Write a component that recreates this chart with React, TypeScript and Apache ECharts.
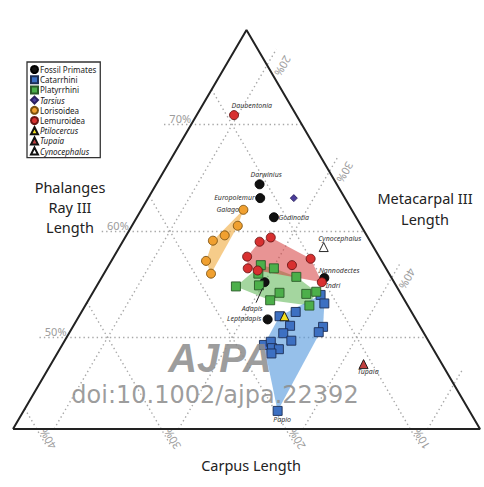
import React, { useEffect, useRef } from "react";
import * as echarts from "echarts";

// Window of the ternary diagram: minimum value shown for each component (%)
const carpusMin = 4.4;
const metacarpalMin = 16.7;
const phalangesMin = 41.4;
const span = 100 - carpusMin - metacarpalMin - phalangesMin; // 37.5

const phalangesTicks = [50, 60, 70];
const metacarpalTicks = [20, 30, 40, 50];
const metacarpalLabelTicks = [20, 30, 40];
const carpusTicks = [10, 20, 30, 40];

// Each point: [carpus %, metacarpal III %, phalanges ray III %]
const fossilNames = ["Darwinius", "Europolemur", "Godinotia", "Nannodectes", "Adapis", "Leptadapis"];
const fossilPrimates = [
  [10.6, 25.0, 64.4], [11.2, 25.7, 63.1], [11.0, 27.7, 61.3],
  [9.8, 34.6, 55.6], [14.8, 30.0, 55.2], [16.3, 32.0, 51.7],
];

const catarrhiniNames = ["", "", "", "", "", "", "", "", "", "", "", "", "", "", "Papio"];
const catarrhini = [
  [10.9, 35.1, 54.0], [11.0, 35.8, 53.2], [13.7, 33.9, 52.4], [15.2, 32.8, 52.0],
  [14.8, 34.1, 51.1], [15.7, 33.9, 50.4], [15.4, 34.9, 49.7], [12.2, 36.8, 51.0],
  [12.8, 36.7, 50.5], [17.8, 32.9, 49.3], [17.1, 33.3, 49.6], [17.3, 33.7, 49.0],
  [16.8, 34.3, 48.9], [17.6, 33.9, 48.5], [19.8, 37.1, 43.1],
];

const platyrrhini = [
  [14.3, 28.9, 56.8], [13.4, 30.1, 56.5], [12.0, 32.3, 55.7], [14.9, 29.1, 56.0],
  [17.3, 27.9, 54.8], [15.4, 29.7, 54.9], [14.1, 31.7, 54.2], [15.2, 31.3, 53.5],
  [12.0, 33.9, 54.1], [11.1, 34.6, 54.3], [12.3, 34.7, 53.0],
];

const tarsius = [[8.5, 28.4, 63.1]];

const lorisoideaNames = ["Galago", "", "", "", "", ""];
const lorisoidea = [
  [13.1, 24.9, 62.0], [14.3, 25.2, 60.5], [15.8, 24.6, 59.6],
  [17.0, 23.9, 59.1], [18.5, 24.3, 57.2], [18.7, 25.3, 56.0],
];

const daubentonia = [9.4, 19.7, 70.9];
const lemuroideaNames = ["Daubentonia", "", "", "", "", "", "", "", "Indri"];
const lemuroideaRest = [
  [13.3, 27.7, 59.0], [12.2, 28.4, 59.4], [15.0, 27.4, 57.6], [15.5, 28.0, 56.5],
  [14.8, 28.9, 56.3], [11.8, 31.4, 56.8], [10.0, 32.6, 57.4], [10.2, 34.6, 55.2],
];

const ptilocercus = [[14.8, 33.2, 52.0]];
const tupaia = [[10.7, 41.8, 47.5]];
const cynocephalus = [[8.4, 33.1, 58.5]];

const legendNames = [
  "Fossil Primates", "Catarrhini", "Platyrrhini", "Tarsius", "Lorisoidea",
  "Lemuroidea", "Ptilocercus", "Tupaia", "Cynocephalus",
];
const italicNames = ["Tarsius", "Ptilocercus", "Tupaia", "Cynocephalus"];

// label placement for named specimens (pixels, relative to the point)
const pointLabels: Record<string, { align: string; dx: number; dy: number }> = {
  Daubentonia: { align: "left", dx: -2, dy: -9 },
  Darwinius: { align: "center", dx: 7, dy: -9 },
  Europolemur: { align: "right", dx: -5, dy: 0 },
  Galago: { align: "right", dx: -4, dy: 0 },
  Godinotia: { align: "left", dx: 5, dy: 0.5 },
  Cynocephalus: { align: "left", dx: -5, dy: -8 },
  Nannodectes: { align: "left", dx: -5, dy: -7 },
  Indri: { align: "left", dx: 4, dy: 4 },
  Adapis: { align: "center", dx: -12, dy: 27 },
  Leptadapis: { align: "right", dx: -6, dy: 0 },
  Tupaia: { align: "center", dx: 5, dy: 8 },
  Papio: { align: "center", dx: 5, dy: 9 },
};

const toXY = (t: number[]) => {
  const p = t[2];
  const m = t[1];
  const y = (p - phalangesMin) / span;
  const x = (m - metacarpalMin) / span + y / 2;
  return [x, y];
};

const convexHull = (pts: number[][]) => {
  const p = pts.slice().sort((a, b) => a[0] - b[0] || a[1] - b[1]);
  const cross = (o: number[], a: number[], b: number[]) =>
    (a[0] - o[0]) * (b[1] - o[1]) - (a[1] - o[1]) * (b[0] - o[0]);
  const lower: number[][] = [];
  for (const q of p) {
    while (lower.length >= 2 && cross(lower[lower.length - 2], lower[lower.length - 1], q) <= 0) lower.pop();
    lower.push(q);
  }
  const upper: number[][] = [];
  for (let i = p.length - 1; i >= 0; i--) {
    const q = p[i];
    while (upper.length >= 2 && cross(upper[upper.length - 2], upper[upper.length - 1], q) <= 0) upper.pop();
    upper.push(q);
  }
  upper.pop();
  lower.pop();
  return lower.concat(upper);
};

const hullSeries = (pts: number[][], fill: string) => {
  const hull = convexHull(pts.map(toXY));
  return {
    type: "custom",
    silent: true,
    z: 2,
    data: [[0, 0]],
    renderItem: (_params: any, api: any) => ({
      type: "polygon",
      shape: { points: hull.map((h) => api.coord(h)) },
      style: { fill, stroke: "none" },
    }),
  };
};

const scatterSeries = (
  name: string,
  pts: number[][],
  names: string[] | null,
  symbol: string,
  size: number,
  color: string,
  border: string
) => ({
  type: "scatter",
  name,
  symbol,
  symbolSize: size,
  z: 5,
  clip: false,
  emphasis: { disabled: true },
  itemStyle: { color, borderColor: border, borderWidth: 0.9, opacity: 1 },
  data: pts.map((p, i) => {
    const nm = names ? names[i] : "";
    const lay = nm ? pointLabels[nm] : undefined;
    const item: any = { value: toXY(p) };
    if (nm) item.name = nm;
    if (lay) {
      item.label = {
        show: true,
        position: [size / 2 + lay.dx, size / 2 + lay.dy],
        align: lay.align,
        verticalAlign: "middle",
        formatter: nm,
        color: "#333",
        fontSize: 7,
        fontStyle: "italic",
        fontFamily: "Noto Sans",
        textBorderWidth: 0,
      };
    }
    return item;
  }),
});

export default function App() {
  const ref = useRef<HTMLDivElement>(null);

  useEffect(() => {
    if (!ref.current) return;
    const chart = echarts.init(ref.current, undefined, { renderer: "svg" });

    const apex = [carpusMin, metacarpalMin, 100 - carpusMin - metacarpalMin];
    const bl = [100 - metacarpalMin - phalangesMin, metacarpalMin, phalangesMin];
    const br = [carpusMin, 100 - carpusMin - phalangesMin, phalangesMin];

    const gridSegs: number[][][] = [];
    phalangesTicks.forEach((v) => {
      const a = toXY([100 - v - metacarpalMin, metacarpalMin, v]);
      const b = toXY([carpusMin, 100 - v - carpusMin, v]);
      gridSegs.push([[a[0] - 0.058, a[1]], b]);
    });
    metacarpalTicks.forEach((v) => {
      const a = toXY([100 - phalangesMin - v, v, phalangesMin]);
      const b = toXY([carpusMin, v, 100 - carpusMin - v]);
      gridSegs.push([a, [b[0] + 0.02, b[1] + 0.04]]);
    });
    carpusTicks.forEach((v) => {
      const a = toXY([v, metacarpalMin, 100 - metacarpalMin - v]);
      const b = toXY([v, 100 - phalangesMin - v, phalangesMin]);
      gridSegs.push([a, [b[0] + 0.02, b[1] - 0.04]]);
    });

    const lemuroidea = [daubentonia, ...lemuroideaRest];

    const option: any = {
      animation: false,
      grid: { left: 13, right: 4, top: 30, bottom: 58 },
      xAxis: { type: "value", min: 0, max: 1, show: false },
      yAxis: { type: "value", min: 0, max: 1, show: false },
      legend: {
        data: legendNames,
        orient: "vertical",
        left: 27,
        top: 62,
        padding: [3, 4, 2, 3],
        borderColor: "#333",
        borderWidth: 1.3,
        itemWidth: 7,
        itemHeight: 7,
        itemGap: 1.2,
        selectedMode: false,
        textStyle: {
          fontSize: 8,
          color: "#222",
          fontFamily: "Noto Sans",
          padding: [0, 0, 0, -3],
          rich: { it: { fontStyle: "italic", fontSize: 8, color: "#222", fontFamily: "Noto Sans" } },
        },
        formatter: (n: string) => (italicNames.includes(n) ? `{it|${n}}` : n),
      },
      series: [
        {
          type: "lines",
          coordinateSystem: "cartesian2d",
          silent: true,
          clip: false,
          z: 1,
          data: gridSegs.map((c) => ({ coords: c })),
          lineStyle: { color: "#a8a8a8", width: 1.4, type: [1.4, 3], opacity: 1 },
        },
        hullSeries(platyrrhini, "rgba(90,180,80,0.55)"),
        hullSeries(catarrhini, "rgba(80,150,220,0.6)"),
        hullSeries(lemuroideaRest, "rgba(214,60,60,0.55)"),
        hullSeries(lorisoidea, "rgba(240,170,60,0.6)"),
        {
          type: "line",
          silent: true,
          clip: false,
          z: 3,
          symbol: "none",
          data: [bl, apex, br, bl].map(toXY),
          lineStyle: { color: "#222", width: 2 },
        },
        scatterSeries("Fossil Primates", fossilPrimates, fossilNames, "circle", 9, "#111", "#000"),
        scatterSeries("Catarrhini", catarrhini, catarrhiniNames, "rect", 9, "#3d70c2", "#1c2e55"),
        scatterSeries("Platyrrhini", platyrrhini, null, "rect", 9, "#4caf4a", "#2a5a28"),
        scatterSeries("Tarsius", tarsius, null, "diamond", 7, "#4b3d9a", "#2a2060"),
        scatterSeries("Lorisoidea", lorisoidea, lorisoideaNames, "circle", 9, "#f0a030", "#7a5010"),
        scatterSeries("Lemuroidea", lemuroidea, lemuroideaNames, "circle", 9, "#d83030", "#6a1515"),
        scatterSeries("Ptilocercus", ptilocercus, null, "triangle", 9, "#f5e020", "#111"),
        scatterSeries("Tupaia", tupaia, ["Tupaia"], "triangle", 9, "#c04040", "#111"),
        scatterSeries("Cynocephalus", cynocephalus, ["Cynocephalus"], "triangle", 9, "#ffffff", "#111"),
      ],
    };
    chart.setOption(option);

    const px = (t: number[]) => chart.convertToPixel({ gridIndex: 0 } as any, toXY(t)) as number[];
    const tickFont = '11px "Noto Sans"';
    const tickFill = "#9c9c9c";
    const graphic: any[] = [];
    phalangesTicks.forEach((v) => {
      const [x, y] = px([100 - v - metacarpalMin, metacarpalMin, v]);
      graphic.push({
        type: "text", x: x, y: y - 6, silent: true,
        style: { text: `${v}%`, fill: tickFill, font: tickFont, align: "right", verticalAlign: "middle", textAlign: "right", textVerticalAlign: "middle" },
      });
    });
    metacarpalLabelTicks.forEach((v) => {
      const [x, y] = px([carpusMin, v, 100 - carpusMin - v]);
      graphic.push({
        type: "text", x: x + 16, y: y + 1, rotation: (-2 * Math.PI) / 3, silent: true,
        style: { text: `${v}%`, fill: tickFill, font: tickFont, align: "center", verticalAlign: "middle", textAlign: "center", textVerticalAlign: "middle" },
      });
    });
    carpusTicks.forEach((v) => {
      const [x, y] = px([v, 100 - phalangesMin - v, phalangesMin]);
      graphic.push({
        type: "text", x: x + 11, y: y + 10, rotation: (2 * Math.PI) / 3, silent: true,
        style: { text: `${v}%`, fill: tickFill, font: tickFont, align: "center", verticalAlign: "middle", textAlign: "center", textVerticalAlign: "middle" },
      });
    });
    const adapis = px(fossilPrimates[4]);
    graphic.push({
      type: "line", silent: true, z: 6,
      shape: { x1: adapis[0] - 8.5, y1: adapis[1] + 20.5, x2: adapis[0] - 2, y2: adapis[1] + 6 },
      style: { stroke: "#222", lineWidth: 1 },
    });
    const titleStyle = { fill: "#222", font: '14.5px "Noto Sans"', align: "center", verticalAlign: "middle", textAlign: "center", textVerticalAlign: "middle" };
    graphic.push({ type: "text", x: 70, y: 207, silent: true, style: { ...titleStyle, text: "Phalanges\nRay III\nLength", lineHeight: 20 } });
    graphic.push({ type: "text", x: 425, y: 208.5, silent: true, style: { ...titleStyle, text: "Metacarpal III\nLength", lineHeight: 21 } });
    graphic.push({ type: "text", x: 251, y: 465, silent: true, style: { ...titleStyle, text: "Carpus Length" } });
    graphic.push({
      type: "text", x: 220, y: 358, silent: true, z: 20,
      style: { text: "AJPA", fill: "rgba(140,140,140,0.85)", font: 'italic bold 40px "Liberation Sans"', align: "center", verticalAlign: "middle", textAlign: "center", textVerticalAlign: "middle" },
    });
    graphic.push({
      type: "text", x: 215, y: 395, silent: true, z: 20,
      style: { text: "doi:10.1002/ajpa.22392", fill: "rgba(140,140,140,0.85)", font: '24px "DejaVu Sans"', align: "center", verticalAlign: "middle", textAlign: "center", textVerticalAlign: "middle" },
    });
    chart.setOption({ graphic });

    return () => chart.dispose();
  }, []);

  return (
    <div
      ref={ref}
      style={{ position: "absolute", left: 0, top: 0, width: 484, height: 487, background: "#fff" }}
    />
  );
}
